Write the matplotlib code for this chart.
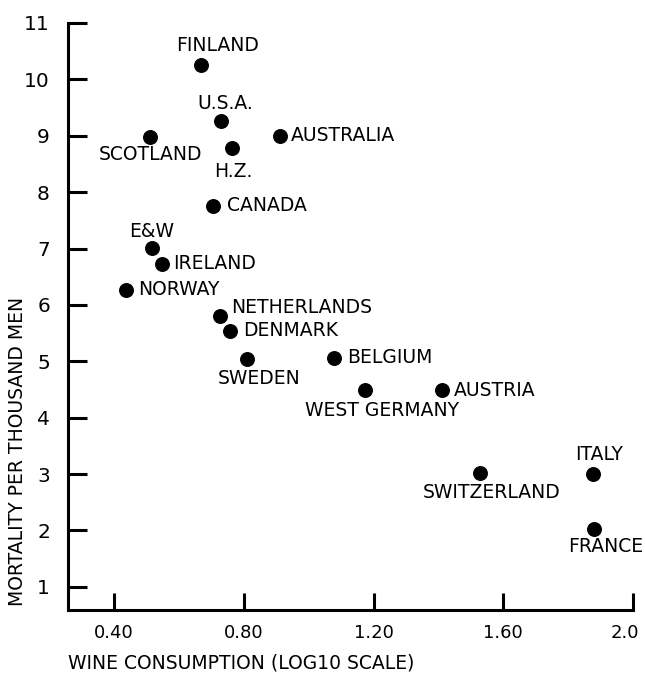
import matplotlib
matplotlib.use("Agg")
import matplotlib.pyplot as plt
from matplotlib.transforms import ScaledTranslation

countries = ["FINLAND", "U.S.A.", "SCOTLAND", "H.Z.", "AUSTRALIA", "CANADA", "E&W",
             "IRELAND", "NORWAY", "NETHERLANDS", "DENMARK", "SWEDEN", "BELGIUM",
             "WEST GERMANY", "AUSTRIA", "SWITZERLAND", "ITALY", "FRANCE"]
wine = [0.668, 0.730, 0.511, 0.764, 0.912, 0.706, 0.517, 0.548, 0.437, 0.727,
        0.758, 0.810, 1.079, 1.175, 1.412, 1.527, 1.878, 1.880]
mortality = [10.25, 9.26, 8.98, 8.78, 9.00, 7.76, 7.01, 6.73, 6.27, 5.80,
             5.54, 5.04, 5.06, 4.49, 4.49, 3.02, 3.00, 2.03]

xticks = [0.40, 0.80, 1.20, 1.60, 2.0]
xticklabels = ["0.40", "0.80", "1.20", "1.60", "2.0"]
yticks = [1, 2, 3, 4, 5, 6, 7, 8, 9, 10, 11]

# label placement: (dx, dy) in points, ha, va
placement = {
    "FINLAND": (12, 14, "center", "center"),
    "U.S.A.": (3, 13, "center", "center"),
    "SCOTLAND": (0, -13, "center", "center"),
    "H.Z.": (1, -17, "center", "center"),
    "AUSTRALIA": (8, 0, "left", "center"),
    "CANADA": (10, 0, "left", "center"),
    "E&W": (0, 12, "center", "center"),
    "IRELAND": (8, 0, "left", "center"),
    "NORWAY": (9, 0, "left", "center"),
    "NETHERLANDS": (8, 6, "left", "center"),
    "DENMARK": (9, 0, "left", "center"),
    "SWEDEN": (9, -14, "center", "center"),
    "BELGIUM": (9, 0, "left", "center"),
    "WEST GERMANY": (12, -15, "center", "center"),
    "AUSTRIA": (8, 0, "left", "center"),
    "SWITZERLAND": (9, -14, "center", "center"),
    "ITALY": (4, 14, "center", "center"),
    "FRANCE": (8, -13, "center", "center"),
}

fig = plt.figure(figsize=(6.45, 6.73), dpi=100)
ax = fig.add_axes([68/645, 1-610/673, (633-68)/645, (610-23)/673])

ax.scatter(wine, mortality, s=95, color="black", zorder=3)
for name, x, y in zip(countries, wine, mortality):
    dx, dy, ha, va = placement[name]
    ax.annotate(name, (x, y), xytext=(dx, dy), textcoords="offset points",
                ha=ha, va=va, fontsize=13.5, color="black")

ax.set_xlim(0.258, 2.0)
ax.set_ylim(0.59, 11)
ax.set_xticks(xticks)
ax.set_xticklabels(xticklabels)
ax.set_yticks(yticks)

for s in ["top", "right"]:
    ax.spines[s].set_visible(False)
for s in ["left", "bottom"]:
    ax.spines[s].set_linewidth(2.2)
    ax.spines[s].set_color("black")
ax.spines["left"].set_bounds(0.59, 11)

ax.tick_params(axis="y", direction="in", length=14, width=2.2, labelsize=14.5, pad=13)
ax.tick_params(axis="x", direction="in", length=12, width=2.2, labelsize=13, pad=10)

# shift the last x tick label slightly left so it stays inside the figure
last = ax.get_xticklabels()[-1]
last.set_transform(last.get_transform() + ScaledTranslation(-8/100, 0, fig.dpi_scale_trans))

fig.text(68/645, 1-663/673, "WINE CONSUMPTION (LOG10 SCALE)", ha="left", va="center",
         fontsize=13.5)
fig.text(18/645, 1-451/673, "MORTALITY PER THOUSAND MEN", ha="center", va="center",
         rotation=90, fontsize=13.5)

fig.savefig("out.png", dpi=100)
